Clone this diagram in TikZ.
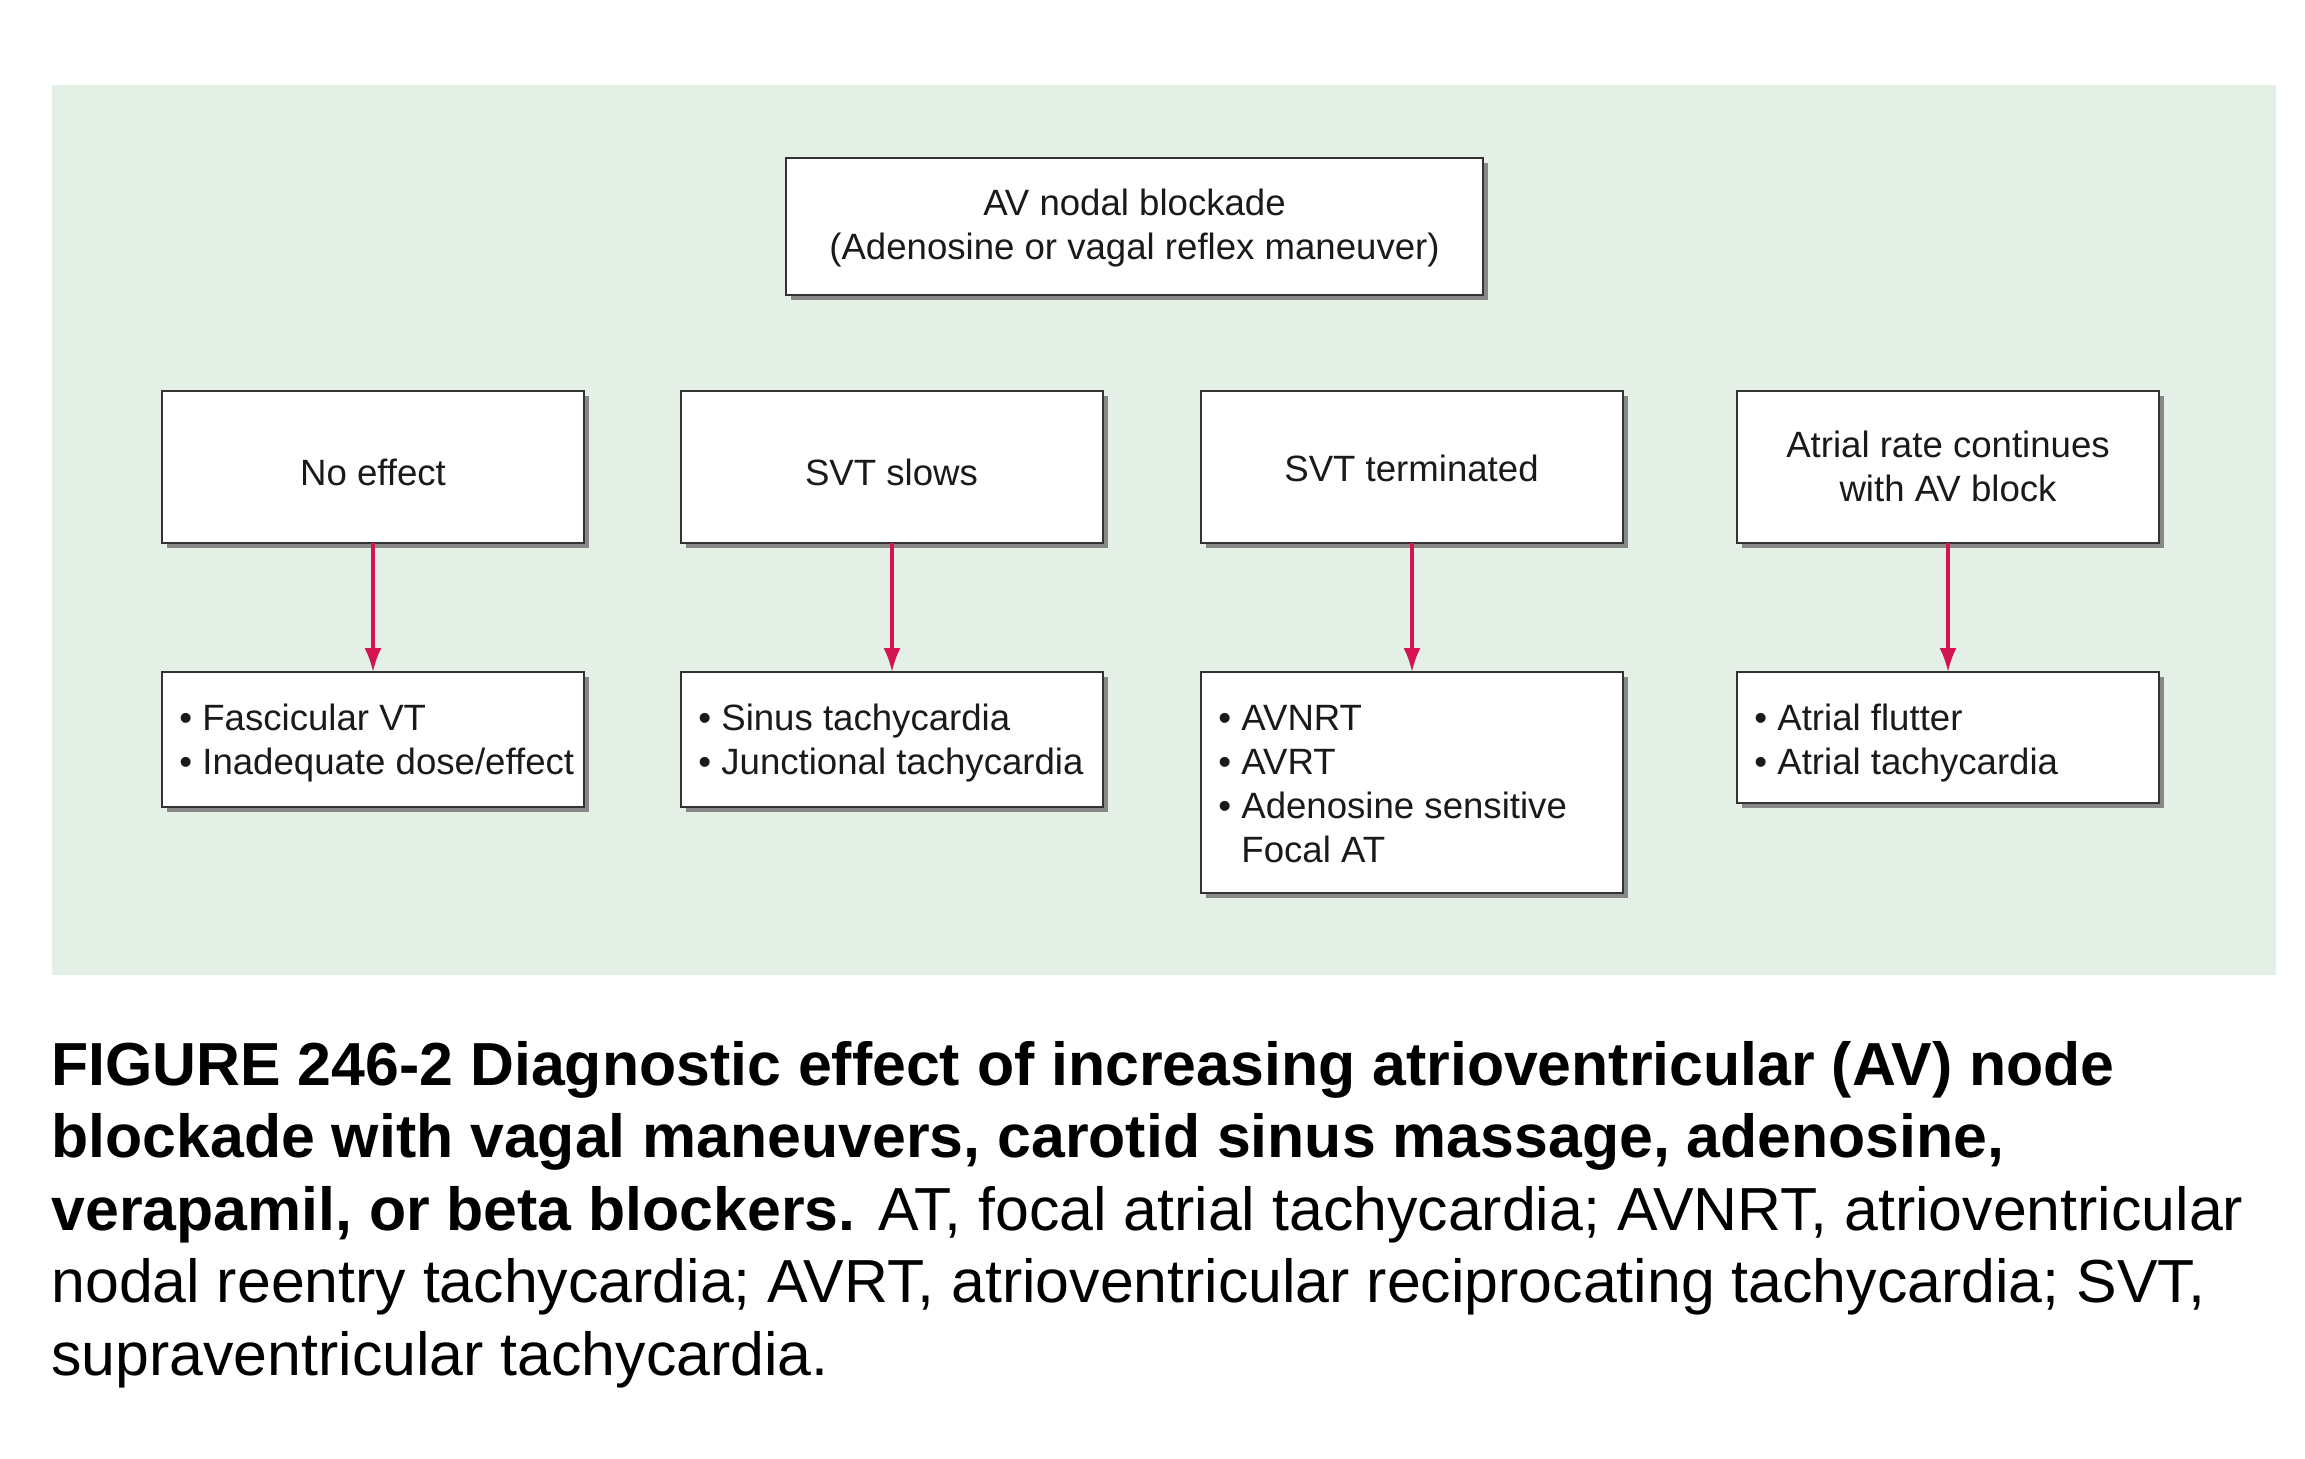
\documentclass[tikz,border=0pt]{standalone}
\usepackage{fontspec}
\setmainfont{Liberation Sans}
\usetikzlibrary{arrows.meta,shadows}
\definecolor{bgcol}{HTML}{E4EFE5}
\definecolor{arrowcol}{HTML}{D41452}
\definecolor{edgecol}{HTML}{333333}
\definecolor{shadowcol}{HTML}{888888}
\definecolor{boxtext}{HTML}{1A1A1A}
\begin{document}
\begin{tikzpicture}[x=0.5pt,y=-0.5pt,
  box/.style={draw=edgecol, fill=white, line width=1.3pt, inner sep=0pt, outer sep=0pt, anchor=north west,
    drop shadow={shadow xshift=2.5pt, shadow yshift=-2.5pt, fill=shadowcol, opacity=1}},
  boxtxt/.style={inner sep=0pt, text=boxtext, font=\fontsize{18.3}{22}\selectfont},
  ctxt/.style={boxtxt, anchor=base},
  ltxt/.style={boxtxt, anchor=base west},
  flow/.style={draw=arrowcol, line width=1.6pt, -{Latex[length=12pt,width=8.5pt]}},
  captxt/.style={inner sep=0pt, anchor=base west, font=\fontsize{30.4}{36.25}\selectfont}
]
\useasboundingbox (0,0) rectangle (2305,1458);
\fill[bgcol] (52,85) rectangle (2276,975);

% top box
\node[box, minimum width=348.5pt, minimum height=68.5pt] (top) at (786,158) {};
\node[ctxt] (toptxt) at (1134.5,215) {\begin{tabular}[t]{@{}c@{}}AV nodal blockade\\(Adenosine or vagal reflex maneuver)\end{tabular}};

% second row
\node[box, minimum width=211pt, minimum height=76pt] (ne) at (162,391) {};
\node[ctxt] (netxt) at (373,485) {No effect};
\node[box, minimum width=211pt, minimum height=76pt] (sl) at (681,391) {};
\node[ctxt] (sltxt) at (891.5,485) {SVT slows};
\node[box, minimum width=211pt, minimum height=76pt] (te) at (1201,391) {};
\node[ctxt] (tetxt) at (1411.5,481) {SVT terminated};
\node[box, minimum width=211pt, minimum height=76pt] (ar) at (1737,391) {};
\node[ctxt] (artxt) at (1948,457) {\begin{tabular}[t]{@{}c@{}}Atrial rate continues\\with AV block\end{tabular}};

% third row
\node[box, minimum width=211pt, minimum height=67.5pt] (fv) at (162,672) {};
\node[ltxt] (fvtxt) at (179,730) {\begin{tabular}[t]{@{}l@{}}• Fascicular VT\\• Inadequate dose/effect\end{tabular}};
\node[box, minimum width=211pt, minimum height=67.5pt] (st) at (681,672) {};
\node[ltxt] (sttxt) at (698,730) {\begin{tabular}[t]{@{}l@{}}• Sinus tachycardia\\• Junctional tachycardia\end{tabular}};
\node[box, minimum width=211pt, minimum height=110.5pt] (av) at (1201,672) {};
\node[ltxt] (avtxt) at (1218,730) {\begin{tabular}[t]{@{}l@{}}• AVNRT\\• AVRT\\• Adenosine sensitive\\\phantom{• }Focal AT\end{tabular}};
\node[box, minimum width=211pt, minimum height=65.5pt] (af) at (1737,672) {};
\node[ltxt] (aftxt) at (1754,730) {\begin{tabular}[t]{@{}l@{}}• Atrial flutter\\• Atrial tachycardia\end{tabular}};

% arrows
\draw[flow] (ne.south) -- (fv.north);
\draw[flow] (sl.south) -- (st.north);
\draw[flow] (te.south) -- (av.north);
\draw[flow] (ar.south) -- (af.north);

% caption
\node[captxt] (cap) at (51,1085) {\begin{tabular}[t]{@{}l@{}}\textbf{FIGURE 246-2 Diagnostic effect of increasing atrioventricular (AV) node}\\
\textbf{blockade with vagal maneuvers, carotid sinus massage, adenosine,}\\
\textbf{verapamil, or beta blockers.} AT, focal atrial tachycardia; AVNRT, atrioventricular\\
nodal reentry tachycardia; AVRT, atrioventricular reciprocating tachycardia; SVT,\\
supraventricular tachycardia.\end{tabular}};
\end{tikzpicture}
\end{document}
